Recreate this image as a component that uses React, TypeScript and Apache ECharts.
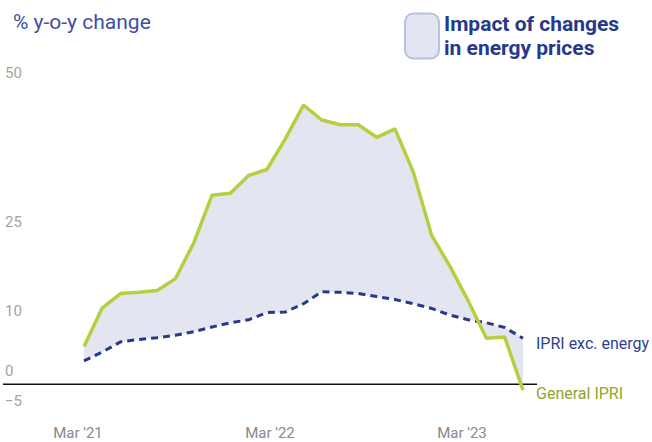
import React, { useEffect, useRef } from "react";
import * as echarts from "echarts";

const months = [
  "Mar '21", "Apr '21", "May '21", "Jun '21", "Jul '21", "Aug '21", "Sep '21",
  "Oct '21", "Nov '21", "Dec '21", "Jan '22", "Feb '22", "Mar '22", "Apr '22",
  "May '22", "Jun '22", "Jul '22", "Aug '22", "Sep '22", "Oct '22", "Nov '22",
  "Dec '22", "Jan '23", "Feb '23", "Mar '23",
];

const generalIPRI = [
  6.3, 12.8, 15.2, 15.4, 15.7, 17.7, 23.7, 31.7, 32.0, 35.0, 36.0, 41.1, 46.8,
  44.3, 43.5, 43.5, 41.4, 42.8, 35.6, 25.0, 19.8, 14.0, 7.7, 7.9, -1.0,
];

const excEnergy = [
  3.9, 5.4, 7.1, 7.5, 7.8, 8.2, 8.8, 9.6, 10.3, 10.8, 12.0, 12.1, 13.5,
  15.5, 15.4, 15.2, 14.7, 14.2, 13.5, 12.7, 11.6, 10.8, 10.3, 9.5, 7.7,
];

const xTickLabels = ["Mar '21", "Mar '22", "Mar '23"];
const xTickMonths = [0, 12, 24];
const yTickValues = [-5, 0, 10, 25, 50];

const FONT = "Roboto, 'Noto Sans', sans-serif";
const GREEN = "#b6cf3e";
const BLUE = "#27398c";
const FILL = "#e3e6f1";

export default function App() {
  const ref = useRef<HTMLDivElement>(null);

  useEffect(() => {
    if (!ref.current) return;
    const chart = echarts.init(ref.current, undefined, { renderer: "svg" });

    const generalData = generalIPRI.map((v, i) => [i, v]);
    const excData = excEnergy.map((v, i) => [i, v]);

    const option: any = {
      animation: false,
      backgroundColor: "#ffffff",
      textStyle: { fontFamily: FONT },
      title: {
        text: "% y-o-y change",
        left: 8,
        top: 6,
        textStyle: {
          fontFamily: FONT,
          fontSize: 21,
          fontWeight: "normal",
          color: "#3d50a2",
        },
      },
      legend: {
        left: 404,
        top: 12,
        padding: 0,
        itemWidth: 34,
        itemHeight: 45,
        itemGap: 6,
        icon: "roundRect",
        selectedMode: false,
        data: ["Impact of changes in energy prices"],
        formatter: () => "Impact of changes\nin energy prices",
        itemStyle: { color: FILL, borderColor: "#b9c1e1", borderWidth: 2 },
        textStyle: {
          fontFamily: FONT,
          fontSize: 21,
          fontWeight: "bold",
          color: "#26398b",
          lineHeight: 24,
          padding: [0, 0, 0, 0],
        },
      },
      grid: { left: 60, right: 129, top: 86, bottom: 28, containLabel: false },
      xAxis: [
        {
          type: "value",
          min: -1.312,
          max: months.length - 1,
          show: false,
        },
        {
          type: "value",
          position: "bottom",
          min: -1.125,
          max: 27.8125,
          axisLine: { show: false },
          axisTick: { show: false },
          splitLine: { show: false },
          axisLabel: {
            customValues: xTickMonths,
            formatter: (v: number) => xTickLabels[xTickMonths.indexOf(Math.round(v))] ?? "",
            fontFamily: FONT,
            fontSize: 15,
            color: "#8a8a8a",
            margin: 11,
          },
        },
      ],
      yAxis: {
        type: "value",
        min: -5,
        max: 50,
        axisLine: { show: false },
        axisTick: { show: false },
        splitLine: { show: false },
        axisLabel: {
          customValues: yTickValues,
          formatter: (v: number) => (v < 0 ? "\u2212" + Math.abs(v) : String(v)),
          fontFamily: FONT,
          fontSize: 15,
          color: "#a3a3a3",
          align: "left",
          verticalAlign: "bottom",
          margin: 55,
          padding: [0, 0, 6, 0],
        },
      },
      series: [
        {
          type: "custom",
          name: "Impact of changes in energy prices",
          xAxisIndex: 0,
          yAxisIndex: 0,
          data: [0],
          z: 1,
          itemStyle: { color: FILL },
          renderItem: (params: any, api: any) => {
            const top = generalIPRI.map((v, i) => api.coord([i, v]));
            const bottom = excEnergy.map((v, i) => api.coord([i, v])).reverse();
            return {
              type: "polygon",
              shape: { points: top.concat(bottom) },
              style: { fill: FILL },
            };
          },
        },
        {
          type: "line",
          name: "IPRI exc. energy",
          xAxisIndex: 0,
          yAxisIndex: 0,
          data: excData,
          showSymbol: false,
          z: 3,
          lineStyle: { color: BLUE, width: 3, type: [7, 5] },
          itemStyle: { color: BLUE },
          endLabel: {
            show: true,
            formatter: "IPRI exc. energy",
            distance: 13,
            offset: [0, 5],
            fontFamily: FONT,
            fontSize: 16,
            color: "#2e3f8f",
          },
        },
        {
          type: "line",
          name: "General IPRI",
          xAxisIndex: 0,
          yAxisIndex: 0,
          data: generalData,
          showSymbol: false,
          z: 4,
          lineStyle: { color: GREEN, width: 3.5 },
          itemStyle: { color: GREEN },
          endLabel: {
            show: true,
            formatter: "General IPRI",
            distance: 13,
            offset: [0, 3],
            fontFamily: FONT,
            fontSize: 16,
            color: "#8ea62e",
          },
        },
      ],
    };

    chart.setOption(option);

    const y0 = chart.convertToPixel({ yAxisIndex: 0 }, 0) as number;
    chart.setOption({
      graphic: [
        {
          type: "line",
          z: 2,
          shape: { x1: 3, y1: y0, x2: 537, y2: y0 },
          style: { stroke: "#111111", lineWidth: 1.5 },
        },
      ],
    });

    return () => chart.dispose();
  }, []);

  return (
    <div
      ref={ref}
      style={{ position: "fixed", left: 0, top: 0, width: 652, height: 442 }}
    />
  );
}
